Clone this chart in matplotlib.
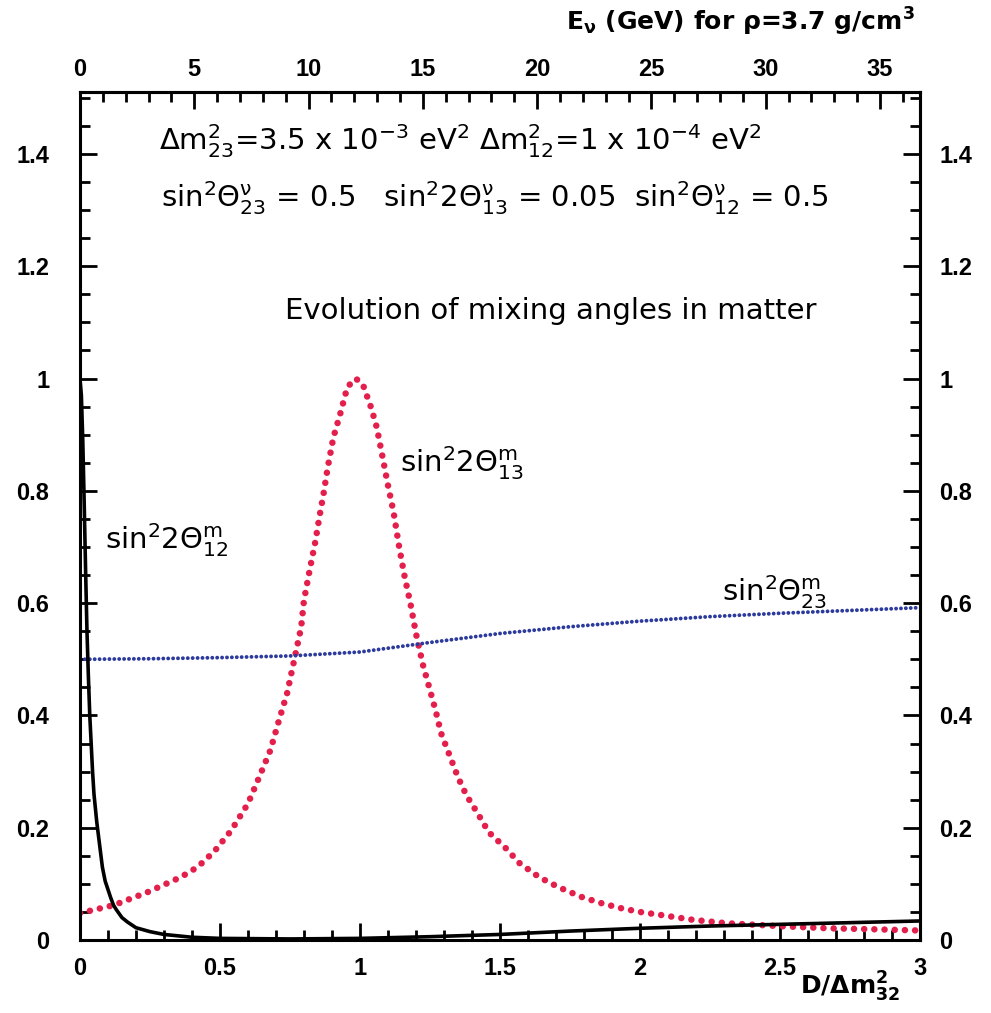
import matplotlib
matplotlib.use("Agg")
import matplotlib.pyplot as plt
from matplotlib.ticker import MultipleLocator, FixedLocator, FormatStrFormatter

plt.rcParams['font.family'] = ['Liberation Sans', 'DejaVu Sans']
plt.rcParams['mathtext.fontset'] = 'custom'
plt.rcParams['mathtext.rm'] = 'DejaVu Sans'
plt.rcParams['mathtext.it'] = 'DejaVu Sans'
plt.rcParams['mathtext.bf'] = 'DejaVu Sans:bold'

# ---------------------------------------------------------
## curvas (x = D / dm^2_32)
x_13 = [0.0, 0.12, 0.24, 0.36, 0.42, 0.48, 0.54, 0.60, 0.64, 0.68, 0.71, 0.74,
        0.77, 0.79, 0.80, 0.82, 0.84, 0.855, 0.87, 0.885, 0.905, 0.93, 0.955,
        0.985, 1.01, 1.04, 1.06, 1.08, 1.10, 1.12, 1.14, 1.16, 1.18, 1.20,
        1.225, 1.25, 1.27, 1.29, 1.32, 1.35, 1.38, 1.42, 1.46, 1.52, 1.57,
        1.64, 1.71, 1.79, 1.86, 1.93, 2.0, 2.07, 2.19, 2.31, 2.49, 2.67, 2.85, 3.0]
sin2_2th13 = [0.048, 0.062, 0.085, 0.112, 0.130, 0.158, 0.195, 0.243, 0.290, 0.338,
              0.390, 0.44, 0.51, 0.557, 0.605, 0.658, 0.708, 0.753, 0.795, 0.842,
              0.895, 0.938, 0.985, 1.0, 0.99, 0.948, 0.913, 0.862, 0.81, 0.762,
              0.70, 0.646, 0.60, 0.546, 0.49, 0.445, 0.409, 0.368, 0.329, 0.29,
              0.258, 0.226, 0.192, 0.164, 0.137, 0.112, 0.094, 0.077, 0.066,
              0.057, 0.05, 0.045, 0.036, 0.030, 0.025, 0.021, 0.019, 0.017]

x_12 = [0.0, 0.005, 0.01, 0.015, 0.02, 0.025, 0.03, 0.035, 0.04, 0.045, 0.05,
        0.055, 0.06, 0.065, 0.07, 0.075, 0.08, 0.09, 0.10, 0.11, 0.12, 0.13,
        0.15, 0.17, 0.20, 0.25, 0.30, 0.40, 0.50, 0.75, 1.0, 1.25, 1.5,
        1.75, 2.0, 2.25, 2.5, 2.75, 3.0]
sin2_2th12 = [1.0, 0.97, 0.89, 0.78, 0.66, 0.55, 0.47, 0.40, 0.35, 0.30, 0.26,
              0.235, 0.21, 0.19, 0.17, 0.15, 0.13, 0.105, 0.09, 0.075, 0.062, 0.054,
              0.04, 0.032, 0.022, 0.015, 0.010, 0.005, 0.003, 0.002, 0.003,
              0.006, 0.010, 0.016, 0.021, 0.025, 0.028, 0.031, 0.034]

x_23 = [0.0, 0.25, 0.5, 0.75, 1.0, 1.25, 1.5, 1.75, 2.0, 2.25, 2.5, 2.75, 3.0]
sin2_th23 = [0.500, 0.501, 0.503, 0.506, 0.513, 0.530, 0.546, 0.558, 0.568,
             0.576, 0.582, 0.587, 0.592]

gev_por_unidad = 12.25   # E_nu (GeV) por unidad de D/dm^2 para rho = 3.7 g/cm^3
ticks_gev = [0, 5, 10, 15, 20, 25, 30, 35]
ticks_y = [0, 0.2, 0.4, 0.6, 0.8, 1.0, 1.2, 1.4]
# ---------------------------------------------------------

fig = plt.figure(figsize=(9.91, 10.13), dpi=100)
ax = fig.add_axes([0.0807, 0.072, 0.8476, 0.837])

ax.plot(x_12, sin2_2th12, color='black', lw=2.6, solid_capstyle='butt', zorder=3)
ax.plot(x_13, sin2_2th13, color='#e3204c', lw=4.7, linestyle=(0, (0.01, 1.55)),
        dash_capstyle='round', zorder=2)
ax.plot(x_23, sin2_th23, color='#2b3a9c', lw=2.8, linestyle=(0, (0.01, 1.25)),
        dash_capstyle='round', zorder=2)

ax.set_xlim(0, 3)
ax.set_ylim(0, 1.51)

for s in ax.spines.values():
    s.set_linewidth(2.2)

ax.xaxis.set_major_locator(MultipleLocator(0.5))
ax.xaxis.set_minor_locator(MultipleLocator(0.1))
ax.yaxis.set_major_locator(FixedLocator(ticks_y))
ax.yaxis.set_minor_locator(MultipleLocator(0.05))
ax.xaxis.set_major_formatter(FormatStrFormatter('%g'))
ax.yaxis.set_major_formatter(FormatStrFormatter('%g'))
ax.tick_params(which='both', direction='in', top=False, right=False, width=2)
ax.tick_params(which='major', length=12, labelsize=17)
ax.tick_params(which='minor', length=7)
ax.tick_params(axis='y', pad=22)
ax.tick_params(axis='x', pad=12)
for lab in ax.get_xticklabels() + ax.get_yticklabels():
    lab.set_fontweight('bold')

# eje derecho
axr = ax.secondary_yaxis('right', functions=(lambda y: y, lambda y: y))
axr.yaxis.set_major_locator(FixedLocator(ticks_y))
axr.yaxis.set_minor_locator(MultipleLocator(0.05))
axr.yaxis.set_major_formatter(FormatStrFormatter('%g'))
axr.tick_params(which='both', direction='in', width=2)
axr.tick_params(which='major', length=12, labelsize=17, pad=14)
axr.tick_params(which='minor', length=7)
axr.spines['right'].set_linewidth(2.2)
for lab in axr.get_yticklabels():
    lab.set_fontweight('bold')

# eje superior en GeV
axt = ax.secondary_xaxis('top', functions=(lambda x: x * gev_por_unidad,
                                            lambda e: e / gev_por_unidad))
axt.xaxis.set_major_locator(FixedLocator(ticks_gev))
axt.xaxis.set_minor_locator(MultipleLocator(1))
axt.xaxis.set_major_formatter(FormatStrFormatter('%g'))
axt.tick_params(which='both', direction='in', width=2)
axt.tick_params(which='major', length=12, labelsize=17, pad=8)
axt.tick_params(which='minor', length=7)
axt.spines['top'].set_linewidth(2.2)
for lab in axt.get_xticklabels():
    lab.set_fontweight('bold')

# textos
txt = dict(fontsize=21, family='DejaVu Sans')
ax.text(1.36, 1.423, r'$\Delta$m$^2_{23}$=3.5 x 10$^{-3}$ eV$^2$ $\Delta$m$^2_{12}$=1 x 10$^{-4}$ eV$^2$',
        ha='center', va='center', **txt)
ax.text(1.48, 1.322, r'sin$^2\Theta^{\nu}_{23}$ = 0.5   sin$^2$2$\Theta^{\nu}_{13}$ = 0.05  sin$^2\Theta^{\nu}_{12}$ = 0.5',
        ha='center', va='center', **txt)
ax.text(1.68, 1.121, 'Evolution of mixing angles in matter', ha='center', va='center', **txt)
ax.text(1.143, 0.85, r'sin$^2$2$\Theta^{m}_{13}$', ha='left', va='center', **txt)
ax.text(0.089, 0.712, r'sin$^2$2$\Theta^{m}_{12}$', ha='left', va='center', **txt)
ax.text(2.293, 0.619, r'sin$^2\Theta^{m}_{23}$', ha='left', va='center', **txt)

fig.text(0.923, 0.978, r'E$_\mathbf{\nu}$ (GeV) for $\mathbf{\rho}$=3.7 g/cm$^\mathbf{3}$',
         fontsize=18, fontweight='bold', family='DejaVu Sans', ha='right', va='center')
fig.text(0.807, 0.026, r'D/$\mathbf{\Delta}$m$^\mathbf{2}_\mathbf{32}$', fontsize=18,
         fontweight='bold', family='DejaVu Sans', ha='left', va='center')

plt.savefig('out.png', dpi=100)
